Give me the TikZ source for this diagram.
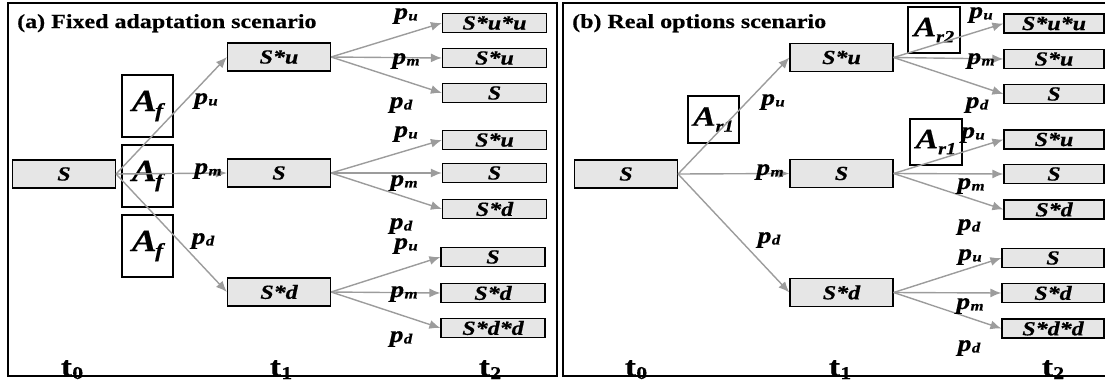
\documentclass[tikz,border=0pt]{standalone}
\usepackage{fontspec}
\setmainfont{Liberation Serif}[FakeStretch=1.2,
  BoldFeatures={FakeBold=0.5}, BoldItalicFeatures={FakeBold=0.5}]
\usetikzlibrary{arrows.meta}
\definecolor{boxgray}{HTML}{E6E6E6}
\definecolor{arrgray}{HTML}{9C9C9C}
\newcommand{\pp}[1]{p\kern0.3pt\raisebox{-1.5pt}{\fontsize{14}{14}\selectfont #1}}
\newcommand{\Asub}[1]{A\kern-1.5pt\raisebox{-6pt}{\fontsize{20}{20}\selectfont #1}}
\newcommand{\Arsub}[1]{A\kern0pt\raisebox{-6pt}{\fontsize{17}{17}\selectfont #1}}
\newcommand{\tsub}[1]{t\kern0.3pt\raisebox{-3pt}{\fontsize{18}{18}\selectfont #1}}
\tikzset{
  st/.style={draw=black, line width=1.2pt, fill=boxgray, inner sep=0pt,
    font=\bfseries\itshape\fontsize{20}{20}\selectfont},
  sbig/.style={st, minimum width=103pt, minimum height=28pt},
  ssmall/.style={st, minimum width=104pt, minimum height=19pt},
  abox/.style={draw=black, line width=1.2pt, inner sep=0pt,
    font=\bfseries\itshape\fontsize{31}{31}\selectfont},
  arbox/.style={abox, font=\bfseries\itshape\fontsize{28}{28}\selectfont},
  arr/.style={draw=arrgray, line width=1.4pt, -{Latex[length=11pt,width=9pt]}},
  plab/.style={inner sep=0pt, font=\bfseries\itshape\fontsize{23}{23}\selectfont},
  tlab/.style={anchor=base, inner sep=0pt, font=\bfseries\fontsize{28}{28}\selectfont},
  ttl/.style={anchor=base west, inner sep=0pt, font=\bfseries\fontsize{20}{20}\selectfont},
  panel/.style={draw=black, line width=1.4pt},
}
\begin{document}
\begin{tikzpicture}[x=1pt,y=-1pt]
\useasboundingbox (0,0) rectangle (1105,383);
\clip (0,0) rectangle (1105,383);
% panels
\draw[panel] (8,3) rectangle (557,376);
\draw[panel] (563,3) rectangle (1115,376);
\node[ttl] (ta) at (17,28) {(a) Fixed adaptation scenario};
\node[ttl] (tb) at (572,28) {(b) Real options scenario};

% ---------- panel (a) ----------
\node[abox, minimum width=51pt, minimum height=62pt] (af1) at (147.5,106) {\Asub{f}};
\node[abox, minimum width=51pt, minimum height=62pt] (af2) at (147.5,176) {\Asub{f}};
\node[abox, minimum width=51pt, minimum height=62pt] (af3) at (147.5,246) {\Asub{f}};

\node[sbig] (a0) at (64,174) {S};
\node[sbig] (a1u) at (279,57) {S*u};
\node[sbig] (a1m) at (279,173) {S};
\node[sbig] (a1d) at (279,292) {S*d};

\node[ssmall] (a2uu) at (494.5,23) {S*u*u};
\node[ssmall] (a2um) at (494.5,58) {S*u};
\node[ssmall] (a2ud) at (494.5,93) {S};
\node[ssmall] (a2mu) at (494.5,140) {S*u};
\node[ssmall] (a2mm) at (494.5,173) {S};
\node[ssmall] (a2md) at (494.5,209) {S*d};
\node[ssmall] (a2du) at (493,257) {S};
\node[ssmall] (a2dm) at (493,293) {S*d};
\node[ssmall] (a2dd) at (493,328) {S*d*d};

\draw[arr] (a0.east) -- (a1u.west);
\draw[arr] (a0.east) -- (a1m.west);
\draw[arr] (a0.east) -- (a1d.west);
\draw[arr] (a1u.east) -- (a2uu.west);
\draw[arr] (a1u.east) -- (a2um.west);
\draw[arr] (a1u.east) -- (a2ud.west);
\draw[arr] (a1m.east) -- (a2mu.west);
\draw[arr] (a1m.east) -- (a2mm.west);
\draw[arr] (a1m.east) -- (a2md.west);
\draw[arr] (a1d.east) -- (a2du.west);
\draw[arr] (a1d.east) -- (a2dm.west);
\draw[arr] (a1d.east) -- (a2dd.west);

\node[plab] (pa1) at (206,101) {\pp{u}};
\node[plab] (pa2) at (208,171) {\pp{m}};
\node[plab] (pa3) at (203,241) {\pp{d}};
\node[plab] (pa4) at (406,16) {\pp{u}};
\node[plab] (pa5) at (406,61) {\pp{m}};
\node[plab] (pa6) at (401,105) {\pp{d}};
\node[plab] (pa7) at (406,134) {\pp{u}};
\node[plab] (pa8) at (404,183) {\pp{m}};
\node[plab] (pa9) at (401,226) {\pp{d}};
\node[plab] (pa10) at (406,246) {\pp{u}};
\node[plab] (pa11) at (404,294) {\pp{m}};
\node[plab] (pa12) at (401,339) {\pp{d}};

\node[tlab] (ta0) at (72,376) {\tsub{0}};
\node[tlab] (ta1) at (281,376) {\tsub{1}};
\node[tlab] (ta2) at (490,376) {\tsub{2}};

% ---------- panel (b) ----------
\node[arbox, minimum width=51pt, minimum height=47pt] (ar1) at (713.5,119.5) {\Arsub{r1}};
\node[arbox, minimum width=52pt, minimum height=46pt] (ar2) at (934,30) {\Arsub{r2}};
\node[arbox, minimum width=52pt, minimum height=46pt] (ar3) at (936,142) {\Arsub{r1}};

\node[sbig] (b0) at (626,174) {S};
\node[sbig] (b1u) at (841.5,57.5) {S*u};
\node[sbig] (b1m) at (841.5,173.5) {S};
\node[sbig] (b1d) at (841.5,292.5) {S*d};

\node[ssmall, minimum width=100pt] (b2uu) at (1054,23.5) {S*u*u};
\node[ssmall, minimum width=100pt] (b2um) at (1054,59) {S*u};
\node[ssmall, minimum width=100pt] (b2ud) at (1054,94) {S};
\node[ssmall, minimum width=100pt] (b2mu) at (1054,139.5) {S*u};
\node[ssmall, minimum width=100pt] (b2mm) at (1054,174) {S};
\node[ssmall, minimum width=100pt] (b2md) at (1054,209.5) {S*d};
\node[ssmall, minimum width=102pt] (b2du) at (1053,258) {S};
\node[ssmall, minimum width=102pt] (b2dm) at (1053,293) {S*d};
\node[ssmall, minimum width=102pt] (b2dd) at (1053,328.5) {S*d*d};

\draw[arr] (b0.east) -- (b1u.west);
\draw[arr] (b0.east) -- (b1m.west);
\draw[arr] (b0.east) -- (b1d.west);
\draw[arr] (b1u.east) -- (b2uu.west);
\draw[arr] (b1u.east) -- (b2um.west);
\draw[arr] (b1u.east) -- (b2ud.west);
\draw[arr] (b1m.east) -- (b2mu.west);
\draw[arr] (b1m.east) -- (b2mm.west);
\draw[arr] (b1m.east) -- (b2md.west);
\draw[arr] (b1d.east) -- (b2du.west);
\draw[arr] (b1d.east) -- (b2dm.west);
\draw[arr] (b1d.east) -- (b2dd.west);

\node[plab] (pb1) at (773,102) {\pp{u}};
\node[plab] (pb2) at (770,172) {\pp{m}};
\node[plab] (pb3) at (769,240) {\pp{d}};
\node[plab] (pb4) at (981,15) {\pp{u}};
\node[plab] (pb5) at (981,61) {\pp{m}};
\node[plab] (pb6) at (977,105) {\pp{d}};
\node[plab] (pb7) at (973,135) {\pp{u}};
\node[plab] (pb8) at (971,186) {\pp{m}};
\node[plab] (pb9) at (969,227) {\pp{d}};
\node[plab] (pb10) at (970,257) {\pp{u}};
\node[plab] (pb11) at (970,306) {\pp{m}};
\node[plab] (pb12) at (969,348) {\pp{d}};

\node[tlab] (tb0) at (636,376) {\tsub{0}};
\node[tlab] (tb1) at (840,376) {\tsub{1}};
\node[tlab] (tb2) at (1053,376) {\tsub{2}};
\end{tikzpicture}
\end{document}
